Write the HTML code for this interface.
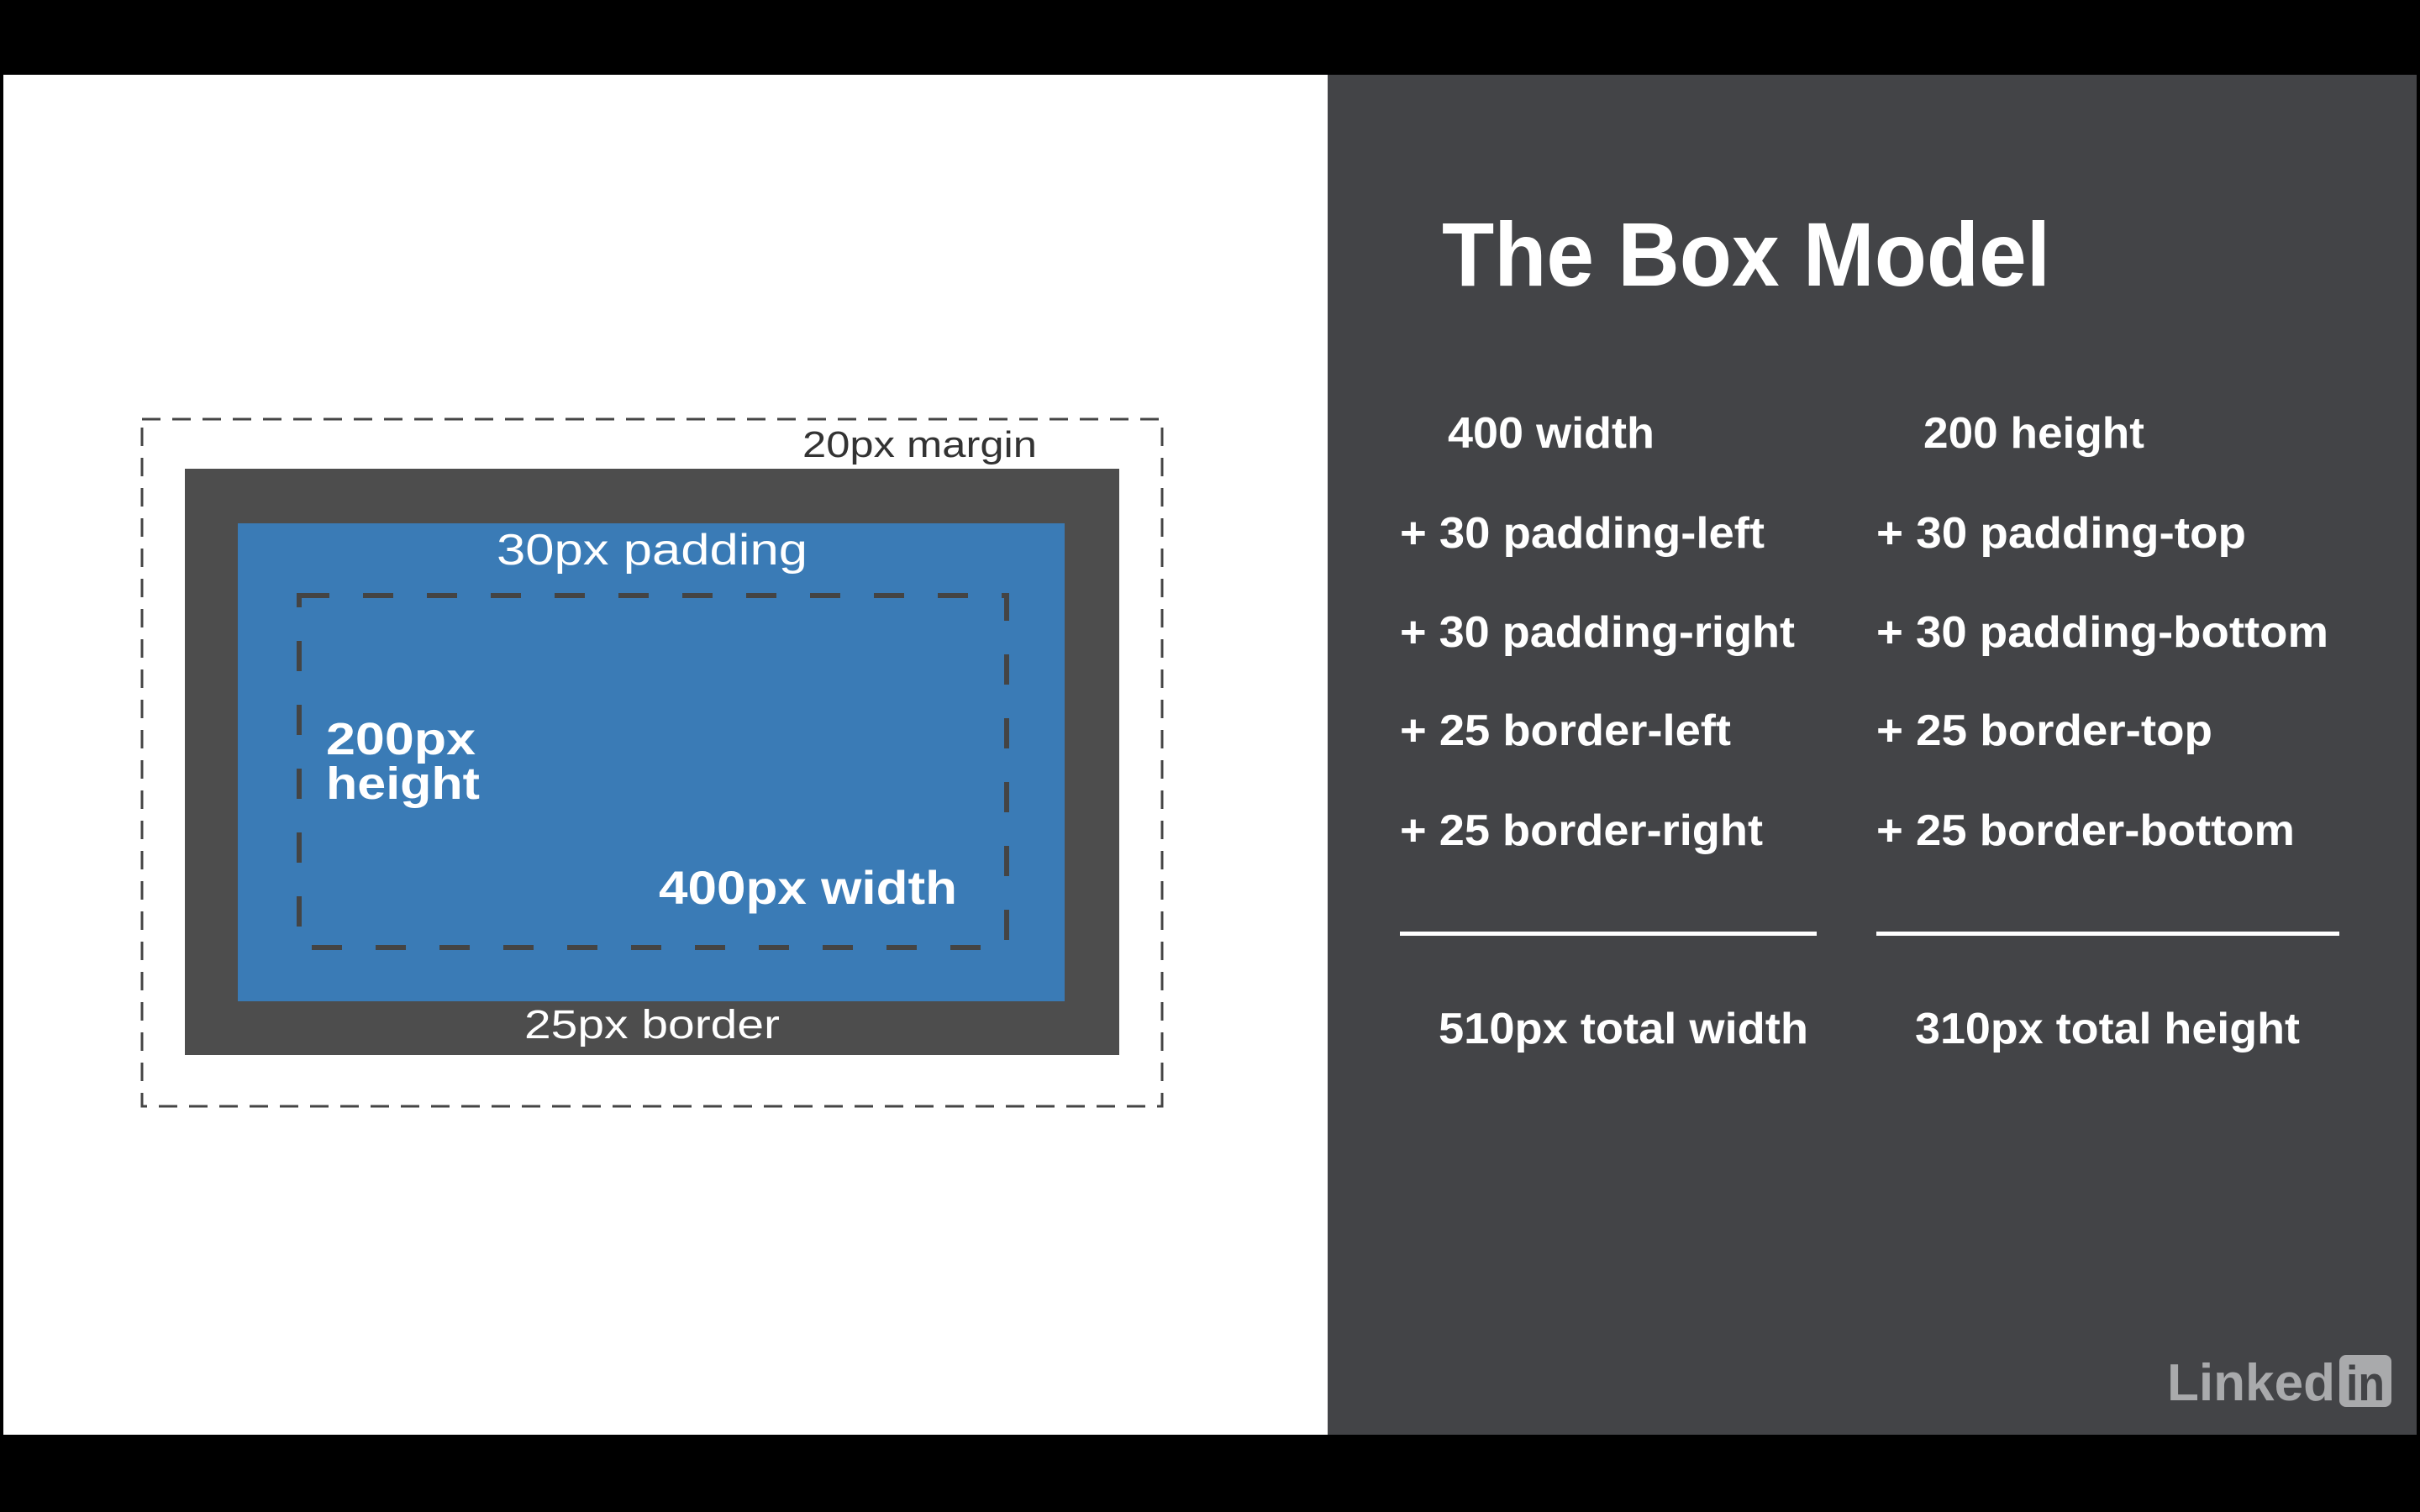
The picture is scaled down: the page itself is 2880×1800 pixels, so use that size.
<!DOCTYPE html>
<html><head><meta charset="utf-8"><style>
html,body{margin:0;padding:0;background:#000;}
svg{display:block}
</style></head><body>
<svg width="2880" height="1800" viewBox="0 0 2880 1800" xmlns="http://www.w3.org/2000/svg" font-family="Liberation Sans, sans-serif">
<rect x="0" y="0" width="2880" height="1800" fill="#000"/>
<rect x="4" y="89" width="1576" height="1619" fill="#fff"/>
<rect x="1580" y="89" width="1296" height="1619" fill="#434447"/>
<!-- margin dashed -->
<rect x="169" y="499" width="1214" height="818" fill="none" stroke="#444" stroke-width="3" stroke-dasharray="22,14"/>
<rect x="220" y="558" width="1112" height="698" fill="#4d4d4d"/>
<rect x="283" y="623" width="984" height="569" fill="#3a7bb6"/>
<rect x="356" y="709" width="842" height="419" fill="none" stroke="#444" stroke-width="6" stroke-dasharray="36,40"/>
<text x="955" y="544" font-size="44" fill="#333" textLength="279" lengthAdjust="spacingAndGlyphs">20px margin</text>
<text x="591" y="672" font-size="52" fill="#fff" textLength="370" lengthAdjust="spacingAndGlyphs">30px padding</text>
<text x="388" y="898" font-size="54" font-weight="bold" fill="#fff" textLength="178" lengthAdjust="spacingAndGlyphs">200px</text>
<text x="388" y="951" font-size="54" font-weight="bold" fill="#fff" textLength="183" lengthAdjust="spacingAndGlyphs">height</text>
<text x="784" y="1076" font-size="56" font-weight="bold" fill="#fff" textLength="355" lengthAdjust="spacingAndGlyphs">400px width</text>
<text x="624" y="1236" font-size="48" fill="#fff" textLength="304" lengthAdjust="spacingAndGlyphs">25px border</text>
<!-- right panel -->
<g fill="#fff" font-weight="bold">
<text x="1716" y="340" font-size="108" textLength="724" lengthAdjust="spacingAndGlyphs">The Box Model</text>
<g font-size="52">
<text x="1723" y="533" textLength="246" lengthAdjust="spacingAndGlyphs">400 width</text>
<text x="1666" y="652" textLength="434" lengthAdjust="spacingAndGlyphs">+ 30 padding-left</text>
<text x="1666" y="770" textLength="470" lengthAdjust="spacingAndGlyphs">+ 30 padding-right</text>
<text x="1666" y="887" textLength="394" lengthAdjust="spacingAndGlyphs">+ 25 border-left</text>
<text x="1666" y="1006" textLength="432" lengthAdjust="spacingAndGlyphs">+ 25 border-right</text>
<text x="2289" y="533" textLength="263" lengthAdjust="spacingAndGlyphs">200 height</text>
<text x="2233" y="652" textLength="440" lengthAdjust="spacingAndGlyphs">+ 30 padding-top</text>
<text x="2233" y="770" textLength="538" lengthAdjust="spacingAndGlyphs">+ 30 padding-bottom</text>
<text x="2233" y="887" textLength="400" lengthAdjust="spacingAndGlyphs">+ 25 border-top</text>
<text x="2233" y="1006" textLength="498" lengthAdjust="spacingAndGlyphs">+ 25 border-bottom</text>
<text x="1712" y="1242" textLength="440" lengthAdjust="spacingAndGlyphs">510px total width</text>
<text x="2279" y="1242" textLength="458" lengthAdjust="spacingAndGlyphs">310px total height</text>
</g>
</g>
<rect x="1666" y="1109" width="496" height="5" fill="#fff"/>
<rect x="2233" y="1109" width="551" height="5" fill="#fff"/>
<!-- LinkedIn -->
<text x="2579" y="1667" font-size="62" font-weight="bold" fill="#a9aaac" textLength="200" lengthAdjust="spacingAndGlyphs">Linked</text>
<rect x="2784" y="1613" width="62" height="62" rx="8" fill="#a9aaac"/>
<text x="2792" y="1667" font-size="58" font-weight="bold" fill="#434447" textLength="46" lengthAdjust="spacingAndGlyphs">in</text>
</svg>
</body></html>
